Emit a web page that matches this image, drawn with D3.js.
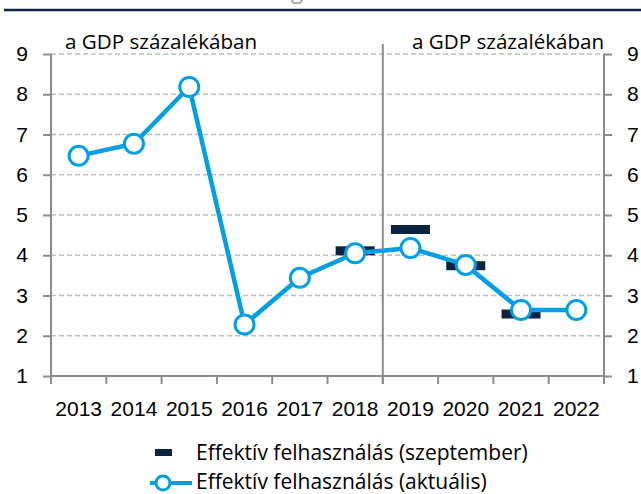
<!DOCTYPE html>
<html>
<head>
<meta charset="utf-8">
<script src="https://cdn.jsdelivr.net/npm/d3@7"></script>
<style>
  body { margin: 0; background: #fff; }
  svg { font-family: "Open Sans", sans-serif; }
</style>
</head>
<body>
<svg width="641" height="494"></svg>
<script>
// chart data
const years = ['2013', '2014', '2015', '2016', '2017', '2018', '2019', '2020', '2021', '2022'];
const actual = [6.47, 6.77, 8.18, 2.28, 3.44, 4.05, 4.18, 3.76, 2.64, 2.64];
const september = [null, null, null, null, null, 4.11, 4.64, 3.74, 2.54, null];
const yTicks = [1, 2, 3, 4, 5, 6, 7, 8, 9];

const width = 641;
const height = 494;
const plotLeft = 51, plotRight = 604, plotTop = 54, plotBottom = 376;

const svg = d3.select('svg');

const blue = '#009fe3';
const navy = '#0c2340';
const axisGray = '#8c8c8c';

// header line and the cut off title above it
svg.append('line')
    .attr('x1', 4).attr('x2', width)
    .attr('y1', 10).attr('y2', 10)
    .attr('stroke', navy).attr('stroke-width', 2.5);
svg.append('text')
    .attr('x', 297).attr('y', -1)
    .attr('text-anchor', 'middle')
    .attr('fill', '#a0a0a0')
    .style('font-size', '22px')
    .text('g');

const x = d3.scaleBand().domain(years).range([plotLeft, plotRight]);
const y = d3.scaleLinear().domain([1, 9]).range([plotBottom, plotTop]);

// gridlines
svg.append('g')
    .selectAll('line')
    .data(yTicks.filter(d => d > 1))
    .enter()
    .append('line')
    .attr('x1', plotLeft).attr('x2', plotRight)
    .attr('y1', d => y(d)).attr('y2', d => y(d))
    .attr('stroke', '#bfbfbf')
    .attr('stroke-width', 1.5)
    .attr('stroke-dasharray', '5,3');

// axes
const yAxisL = d3.axisLeft(y).tickValues(yTicks).tickSize(8).tickPadding(15);
const yAxisR = d3.axisRight(y).tickValues(yTicks).tickSize(8).tickPadding(15);

const gl = svg.append('g').attr('transform', `translate(${plotLeft},0)`).call(yAxisL);
const gr = svg.append('g').attr('transform', `translate(${plotRight},0)`).call(yAxisR);

// bottom axis, ticks sit on the category boundaries
const xAxis = d3.axisBottom(x).tickSize(0).tickPadding(25);
const gx = svg.append('g').attr('transform', `translate(0,${plotBottom})`).call(xAxis);
gx.selectAll('.tick')
    .append('line')
    .attr('x1', -x.bandwidth() / 2).attr('x2', -x.bandwidth() / 2)
    .attr('y1', 0).attr('y2', 8);
gx.append('line')
    .attr('x1', plotRight).attr('x2', plotRight)
    .attr('y1', 0).attr('y2', 8);

[gl, gr, gx].forEach(g => {
    g.selectAll('path.domain').attr('stroke', axisGray).attr('stroke-width', 2);
    g.selectAll('line').attr('stroke', axisGray).attr('stroke-width', 2);
    g.selectAll('text').attr('fill', '#000').style('font-size', '21px');
});
gl.select('path.domain').attr('d', `M0,${plotTop}V${plotBottom}`);
gr.select('path.domain').attr('d', `M0,${plotTop}V${plotBottom}`);
gx.select('path.domain').attr('d', `M${plotLeft},0H${plotRight}`);

// divider between 2018 and 2019
const divX = x('2019');
svg.append('line')
    .attr('x1', divX).attr('x2', divX)
    .attr('y1', plotTop - 10).attr('y2', plotBottom + 8)
    .attr('stroke', axisGray).attr('stroke-width', 2);

// unit labels
svg.append('text').attr('x', 65).attr('y', 49)
    .style('font-size', '20.6px').text('a GDP százalékában');
svg.append('text').attr('x', 412).attr('y', 49)
    .style('font-size', '20.6px').text('a GDP százalékában');

// september dashes
const sepData = years.map((d, i) => ({ year: d, v: september[i] })).filter(d => d.v !== null);
svg.append('g')
    .selectAll('rect')
    .data(sepData)
    .enter()
    .append('rect')
    .attr('x', d => x(d.year) + x.bandwidth() / 2 - 19.5)
    .attr('y', d => y(d.v) - 4.5)
    .attr('width', 39)
    .attr('height', 9)
    .attr('fill', navy);

// actual line
const actData = years.map((d, i) => ({ year: d, v: actual[i] }));
const line = d3.line()
    .x(d => x(d.year) + x.bandwidth() / 2)
    .y(d => y(d.v));

svg.append('path')
    .datum(actData)
    .attr('d', line)
    .attr('fill', 'none')
    .attr('stroke', blue)
    .attr('stroke-width', 4.5);

svg.append('g')
    .selectAll('circle')
    .data(actData)
    .enter()
    .append('circle')
    .attr('cx', d => x(d.year) + x.bandwidth() / 2)
    .attr('cy', d => y(d.v))
    .attr('r', 9.5)
    .attr('fill', '#fff')
    .attr('stroke', blue)
    .attr('stroke-width', 3);

// legend
const legend = svg.append('g');
legend.append('rect')
    .attr('x', 155).attr('y', 449).attr('width', 17).attr('height', 7)
    .attr('fill', navy);
legend.append('text').attr('x', 196).attr('y', 460)
    .style('font-size', '21px').text('Effektív felhasználás (szeptember)');
legend.append('line')
    .attr('x1', 150).attr('x2', 192).attr('y1', 483).attr('y2', 483)
    .attr('stroke', blue).attr('stroke-width', 4);
legend.append('circle')
    .attr('cx', 163).attr('cy', 483).attr('r', 7)
    .attr('fill', '#fff').attr('stroke', blue).attr('stroke-width', 3);
legend.append('text').attr('x', 196).attr('y', 489)
    .style('font-size', '21px').text('Effektív felhasználás (aktuális)');
</script>
</body>
</html>
